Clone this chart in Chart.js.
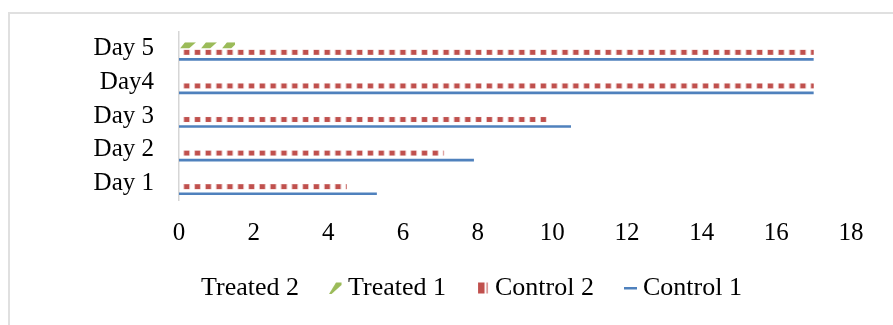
<!DOCTYPE html>
<html>
<head>
<meta charset="utf-8">
<script src="https://cdn.jsdelivr.net/npm/chart.js@4/dist/chart.umd.min.js"></script>
<style>
  html, body { margin: 0; padding: 0; background: #ffffff; overflow: hidden; }
  #wrap { position: relative; width: 893px; height: 325px; }
  #frame { position: absolute; left: 8px; top: 12px; width: 920px; height: 340px; border: 2px solid #e0e0e0; box-sizing: border-box; }
  #chart { position: absolute; left: 0; top: 0; }
</style>
</head>
<body>
<div id="wrap">
  <div id="frame"></div>
  <canvas id="chart" width="893" height="325"></canvas>
</div>
<script>
// Days listed from the top row down
const days = ['Day 5', 'Day4', 'Day 3', 'Day 2', 'Day 1'];
const treated2 = [0, 0, 0, 0, 0];
const treated1 = [1.5, 0, 0, 0, 0];
const control2 = [17, 17, 9.85, 7.1, 4.5];
const control1 = [17, 17, 10.5, 7.9, 5.3];
const xTicks = [0, 2, 4, 6, 8, 10, 12, 14, 16, 18];

const RED = '#c0504d';
const GREEN = '#9bbb59';
const BLUE = '#4f81bd';

Chart.defaults.font.family = "'Liberation Serif', 'Times New Roman', serif";
Chart.defaults.color = '#000000';

// Small legend glyphs; the mark sits at the right end of each image
function glyph(draw) {
  const c = document.createElement('canvas');
  c.width = 40; c.height = 16;
  const g = c.getContext('2d');
  if (draw) draw(g);
  return c;
}
const legendGlyphs = [
  glyph(null),
  glyph(g => {
    g.fillStyle = GREEN;
    g.beginPath();
    g.moveTo(27, 14); g.lineTo(29.5, 14); g.lineTo(39.5, 5); g.lineTo(39.5, 2.5); g.lineTo(34, 2.5);
    g.closePath(); g.fill();
  }),
  glyph(g => {
    g.fillStyle = RED;
    g.fillRect(29, 2.5, 6.5, 11);
    g.fillStyle = 'rgba(192,80,77,0.85)';
    g.fillRect(37.5, 2.5, 1.2, 11);
  }),
  glyph(g => {
    g.fillStyle = BLUE;
    g.fillRect(27, 7, 13, 2.5);
  })
];

// Paints the textured fills inside each bar's rectangle
const texturePainter = {
  id: 'texturePainter',
  afterDatasetDraw(chart, args) {
    const ds = chart.data.datasets[args.index];
    if (!ds.texture) return;
    const ctx = chart.ctx;
    args.meta.data.forEach(bar => {
      const p = bar.getProps(['x', 'y', 'base', 'height'], true);
      const left = Math.min(p.base, p.x), right = Math.max(p.base, p.x);
      if (right - left < 0.5) return;
      const top = p.y - p.height / 2, bottom = p.y + p.height / 2;
      ctx.save();
      ctx.beginPath();
      ctx.rect(left, top, right - left, p.height);
      ctx.clip();
      if (ds.texture === 'squares') {
        const period = 10.81, w = 4.8;
        for (let sx = left + 5.3; sx < right; sx += period) {
          ctx.fillStyle = 'rgba(192,80,77,0.35)';
          ctx.fillRect(sx - 1, top, w + 2, p.height);
          ctx.fillStyle = RED;
          ctx.fillRect(sx, top + 0.3, w, p.height - 0.6);
        }
      } else if (ds.texture === 'slashes') {
        const period = 21;
        for (let sx = left + 1; sx < right; sx += period) {
          ctx.fillStyle = GREEN;
          ctx.beginPath();
          ctx.moveTo(sx, bottom);
          ctx.lineTo(sx + 9, bottom);
          ctx.lineTo(sx + 16, top);
          ctx.lineTo(sx + 5, top);
          ctx.closePath();
          ctx.fill();
        }
      }
      ctx.restore();
    });
  }
};

new Chart(document.getElementById('chart'), {
  type: 'bar',
  data: {
    labels: days,
    datasets: [
      { label: 'Treated 2', data: treated2, backgroundColor: 'rgba(0,0,0,0)', barPercentage: 0.8 },
      { label: 'Treated 1', data: treated1, backgroundColor: 'rgba(0,0,0,0)', texture: 'slashes', barPercentage: 0.9 },
      { label: 'Control 2', data: control2, backgroundColor: 'rgba(0,0,0,0)', texture: 'squares', barPercentage: 0.78 },
      { label: 'Control 1', data: control1, backgroundColor: BLUE, barPercentage: 0.38 }
    ]
  },
  options: {
    indexAxis: 'y',
    responsive: false,
    animation: false,
    devicePixelRatio: 1,
    categoryPercentage: 0.836,
    layout: { padding: { left: 53, right: 42, top: 32, bottom: 14 } },
    scales: {
      x: {
        min: 0,
        max: 18,
        afterBuildTicks(scale) { scale.ticks = xTicks.map(v => ({ value: v })); },
        afterFit(scale) { scale.height = 65; },
        grid: { display: false, drawTicks: false },
        border: { display: false },
        ticks: { font: { size: 25 }, padding: 18, color: '#000000' }
      },
      y: {
        afterFit(scale) { scale.width = 126; },
        grid: { display: false, drawTicks: false },
        border: { display: true, color: '#d6d6d6', width: 1.5 },
        ticks: { font: { size: 25, lineHeight: 0.5 }, padding: 25, autoSkip: false, color: '#000000' }
      }
    },
    plugins: {
      tooltip: { enabled: false },
      legend: {
        position: 'bottom',
        labels: {
          usePointStyle: true,
          pointStyleWidth: 26,
          padding: 10,
          color: '#000000',
          font: { size: 26 },
          generateLabels(chart) {
            const items = Chart.defaults.plugins.legend.labels.generateLabels(chart);
            items.forEach((it, i) => { it.pointStyle = legendGlyphs[i]; it.fontColor = '#000000'; });
            return items;
          }
        }
      }
    }
  },
  plugins: [texturePainter]
});
</script>
</body>
</html>
